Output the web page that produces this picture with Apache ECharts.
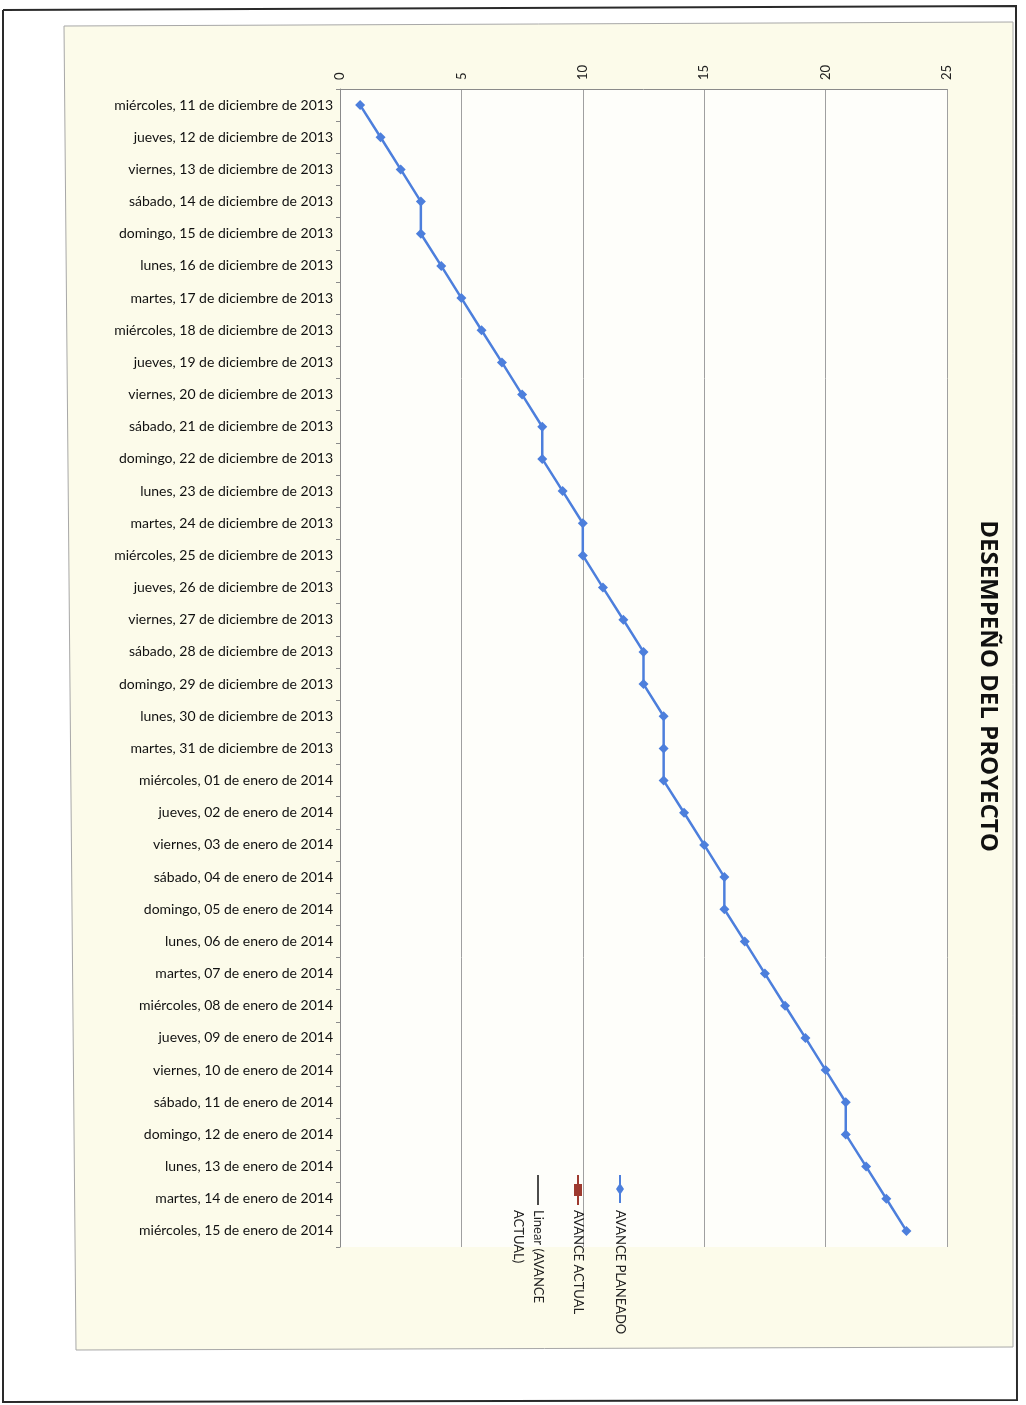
<!DOCTYPE html>
<html>
<head>
<meta charset="utf-8">
<script src="https://cdn.jsdelivr.net/npm/echarts@6/dist/echarts.min.js"></script>
<style>
html,body{margin:0;padding:0;background:#fff;}
#chart{width:1026px;height:1405px;}
</style>
</head>
<body>
<div id="chart"></div>
<script>
const categories = [
  'miércoles, 11 de diciembre de 2013',
  'jueves, 12 de diciembre de 2013',
  'viernes, 13 de diciembre de 2013',
  'sábado, 14 de diciembre de 2013',
  'domingo, 15 de diciembre de 2013',
  'lunes, 16 de diciembre de 2013',
  'martes, 17 de diciembre de 2013',
  'miércoles, 18 de diciembre de 2013',
  'jueves, 19 de diciembre de 2013',
  'viernes, 20 de diciembre de 2013',
  'sábado, 21 de diciembre de 2013',
  'domingo, 22 de diciembre de 2013',
  'lunes, 23 de diciembre de 2013',
  'martes, 24 de diciembre de 2013',
  'miércoles, 25 de diciembre de 2013',
  'jueves, 26 de diciembre de 2013',
  'viernes, 27 de diciembre de 2013',
  'sábado, 28 de diciembre de 2013',
  'domingo, 29 de diciembre de 2013',
  'lunes, 30 de diciembre de 2013',
  'martes, 31 de diciembre de 2013',
  'miércoles, 01 de enero de 2014',
  'jueves, 02 de enero de 2014',
  'viernes, 03 de enero de 2014',
  'sábado, 04 de enero de 2014',
  'domingo, 05 de enero de 2014',
  'lunes, 06 de enero de 2014',
  'martes, 07 de enero de 2014',
  'miércoles, 08 de enero de 2014',
  'jueves, 09 de enero de 2014',
  'viernes, 10 de enero de 2014',
  'sábado, 11 de enero de 2014',
  'domingo, 12 de enero de 2014',
  'lunes, 13 de enero de 2014',
  'martes, 14 de enero de 2014',
  'miércoles, 15 de enero de 2014'
];
const avancePlaneado = [
  0.83, 1.67, 2.5, 3.33, 3.33, 4.17, 5.0, 5.83, 6.67, 7.5,
  8.33, 8.33, 9.17, 10.0, 10.0, 10.83, 11.67, 12.5, 12.5, 13.33,
  13.33, 13.33, 14.17, 15.0, 15.83, 15.83, 16.67, 17.5, 18.33, 19.17,
  20.0, 20.83, 20.83, 21.67, 22.5, 23.33
];
const avanceActual = [];
const valueMin = 0, valueMax = 25, valueStep = 5;
const titleText = 'DESEMPEÑO DEL PROYECTO';
const legendNames = ['AVANCE PLANEADO', 'AVANCE ACTUAL', 'Linear (AVANCE', 'ACTUAL)'];

const chart = echarts.init(document.getElementById('chart'), null, {renderer: 'canvas'});
const R = -Math.PI / 2;
const option = {
  backgroundColor: '#ffffff',
  animation: false,
  grid: {left: 340, top: 89, width: 607, height: 1158, show: true, backgroundColor: '#fefefa', borderWidth: 0},
  xAxis: {
    type: 'value', position: 'top', min: valueMin, max: valueMax, interval: valueStep,
    axisLine: {show: true, lineStyle: {color: '#8a8a8a', width: 1}},
    axisTick: {show: false},
    splitLine: {show: true, lineStyle: {color: '#a0a0a0', width: 1}},
    axisLabel: {rotate: -90, margin: 9, fontSize: 13, color: '#222', fontFamily: 'Lato'}
  },
  yAxis: {
    type: 'category', inverse: true, data: categories,
    axisLine: {show: true, lineStyle: {color: '#8a8a8a', width: 1}},
    axisTick: {show: true, length: 4, lineStyle: {color: '#8a8a8a'}},
    axisLabel: {margin: 7, fontSize: 14, color: '#111', fontFamily: 'Lato'}
  },
  series: [
    {
      name: 'AVANCE PLANEADO', type: 'line', data: avancePlaneado,
      symbol: 'diamond', symbolSize: 10, showSymbol: true,
      lineStyle: {color: '#4d7fdc', width: 2.5},
      itemStyle: {color: '#4d7fdc'}
    },
    {
      name: 'AVANCE ACTUAL', type: 'line', data: avanceActual,
      symbol: 'rect', lineStyle: {color: '#9e3a2f'}, itemStyle: {color: '#9e3a2f'}
    }
  ],
  graphic: {elements: [
    {type: 'polygon', z: -20, silent: true,
      shape: {points: [[64,26],[1013,22],[1013,1347],[76,1350]]},
      style: {fill: '#fcfbea', stroke: '#a8a8a8', lineWidth: 1}},
    {type: 'polyline', z: 100, silent: true,
      shape: {points: [[3,10],[1016,6],[1017,1400],[3,1402],[3,10]]},
      style: {fill: null, stroke: '#2a2a2a', lineWidth: 2}},
    {type: 'text', z: 100, x: 988, y: 686, rotation: R,
      style: {text: titleText, fontFamily: 'Open Sans', fontWeight: 'bold', fontSize: 24, fill: '#111', align: 'center', verticalAlign: 'middle'}},
    // legend: AVANCE PLANEADO
    {type: 'line', z: 100, shape: {x1: 620, y1: 1175, x2: 620, y2: 1203}, style: {stroke: '#4d7fdc', lineWidth: 2}},
    {type: 'polygon', z: 100, shape: {points: [[620,1183],[624,1189],[620,1195],[616,1189]]}, style: {fill: '#4d7fdc'}},
    {type: 'text', z: 100, x: 620, y: 1210, rotation: R,
      style: {text: legendNames[0], fontFamily: 'Lato', fontSize: 13, fill: '#222', align: 'left', verticalAlign: 'middle'}},
    // legend: AVANCE ACTUAL
    {type: 'line', z: 100, shape: {x1: 578, y1: 1175, x2: 578, y2: 1205}, style: {stroke: '#9e3a2f', lineWidth: 2}},
    {type: 'rect', z: 100, shape: {x: 574, y: 1184, width: 8, height: 12}, style: {fill: '#9e3a2f'}},
    {type: 'text', z: 100, x: 578, y: 1210, rotation: R,
      style: {text: legendNames[1], fontFamily: 'Lato', fontSize: 13, fill: '#222', align: 'left', verticalAlign: 'middle'}},
    // legend: Linear
    {type: 'line', z: 100, shape: {x1: 538, y1: 1175, x2: 538, y2: 1205}, style: {stroke: '#111', lineWidth: 1.5}},
    {type: 'text', z: 100, x: 538, y: 1210, rotation: R,
      style: {text: legendNames[2], fontFamily: 'Lato', fontSize: 13, fill: '#222', align: 'left', verticalAlign: 'middle'}},
    {type: 'text', z: 100, x: 518, y: 1210, rotation: R,
      style: {text: legendNames[3], fontFamily: 'Lato', fontSize: 13, fill: '#222', align: 'left', verticalAlign: 'middle'}}
  ]}
};
chart.setOption(option);
</script>
</body>
</html>
